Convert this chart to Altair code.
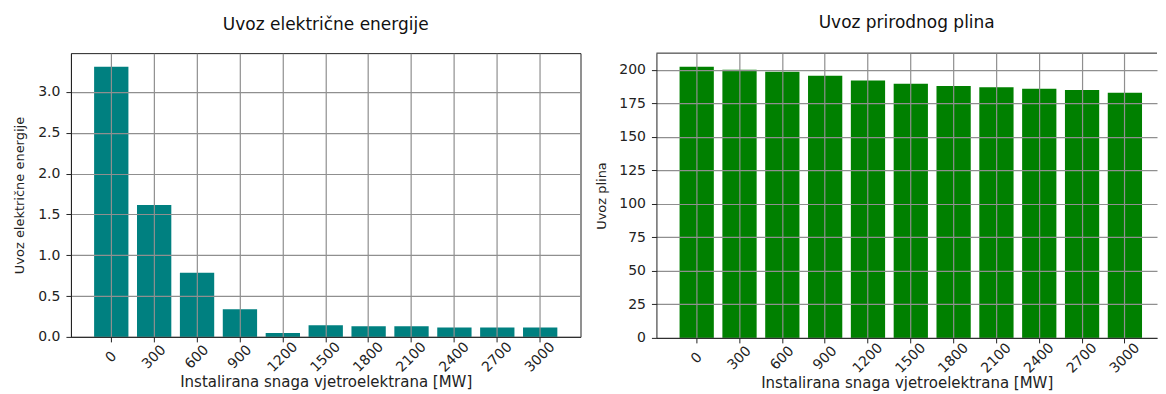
import altair as alt
import pandas as pd

# Data
snaga = ["0", "300", "600", "900", "1200", "1500", "1800", "2100", "2400", "2700", "3000"]
uvoz_struje = [3.31, 1.614, 0.785, 0.339, 0.049, 0.143, 0.131, 0.131, 0.114, 0.114, 0.114]
uvoz_plina = [202.2, 200.0, 198.5, 195.5, 191.8, 189.5, 187.8, 186.8, 185.8, 184.8, 182.8]
struja_ticks = [0.0, 0.5, 1.0, 1.5, 2.0, 2.5, 3.0]
plin_ticks = [0, 25, 50, 75, 100, 125, 150, 175, 200]

df = pd.DataFrame({"snaga": snaga, "struja": uvoz_struje, "plin": uvoz_plina})

FONT = "DejaVu Sans"
DARK = "#222222"
GRID = "#8f8f8f"


def x_axis():
    return alt.Axis(
        title="Instalirana snaga vjetroelektrana [MW]",
        labelAngle=-45, labelAlign="center", labelBaseline="middle",
        labelPadding=15, tickSize=5, tickColor=DARK, domainColor=DARK,
        labelFontSize=14, titleFontSize=15, labelColor=DARK, titleColor=DARK,
        titleFontWeight="normal", labelFont=FONT, titleFont=FONT,
        grid=True, gridColor=GRID, gridWidth=1.2, bandPosition=0.5,
        labelOverlap=False, zindex=1, titlePadding=0,
    )


def y_axis(title, values, fmt, title_pad):
    return alt.Axis(
        title=title, values=values, format=fmt,
        tickSize=5, tickColor=DARK, domainColor=DARK, labelPadding=6,
        labelFontSize=14, titleFontSize=13, labelColor=DARK, titleColor=DARK,
        titleFontWeight="normal", labelFont=FONT, titleFont=FONT,
        grid=True, gridColor=GRID, gridWidth=1.2, zindex=1, titlePadding=title_pad,
        labelOverlap=False,
    )


left = alt.Chart(df).mark_bar(color="#008080").encode(
    x=alt.X("snaga:N", sort=None,
            scale=alt.Scale(paddingInner=0.2, paddingOuter=0.54), axis=x_axis()),
    y=alt.Y("struja:Q", scale=alt.Scale(domain=[0, 3.4755], nice=False),
            axis=y_axis("Uvoz električne energije", struja_ticks, ".1f", 11)),
).properties(
    width=510, height=284,
    title=alt.TitleParams("Uvoz električne energije", fontSize=17, font=FONT,
                          fontWeight="normal", offset=19, color="#111111"),
    view=alt.ViewBackground(stroke=DARK),
)

plin_max = 212.3
plin_scale = alt.Scale(domain=[0, plin_max], nice=False)
plin_axis = y_axis("Uvoz plina", plin_ticks, "d", 10)

bars_r = alt.Chart(df).mark_bar(color="#008000").encode(
    x=alt.X("snaga:N", sort=None,
            scale=alt.Scale(paddingInner=0.2, paddingOuter=0.445, align=0.607),
            axis=x_axis()),
    y=alt.Y("plin:Q", scale=plin_scale, axis=plin_axis),
)
top_border = alt.Chart(pd.DataFrame({"plin": [plin_max]})).mark_rule(
    color=DARK, strokeWidth=1
).encode(y=alt.Y("plin:Q", scale=plin_scale, axis=plin_axis))

right = alt.layer(bars_r, top_border).properties(
    width=501, height=285,
    title=alt.TitleParams("Uvoz prirodnog plina", fontSize=17, font=FONT,
                          fontWeight="normal", offset=21, color="#111111"),
    view=alt.ViewBackground(stroke="transparent"),
)

chart = alt.hconcat(left, right, spacing=13).properties(
    padding={"left": 5, "top": 5, "right": 0, "bottom": 0}
).configure(font=FONT)

chart.save("out.html", embed_options={"renderer": "svg", "actions": False})
